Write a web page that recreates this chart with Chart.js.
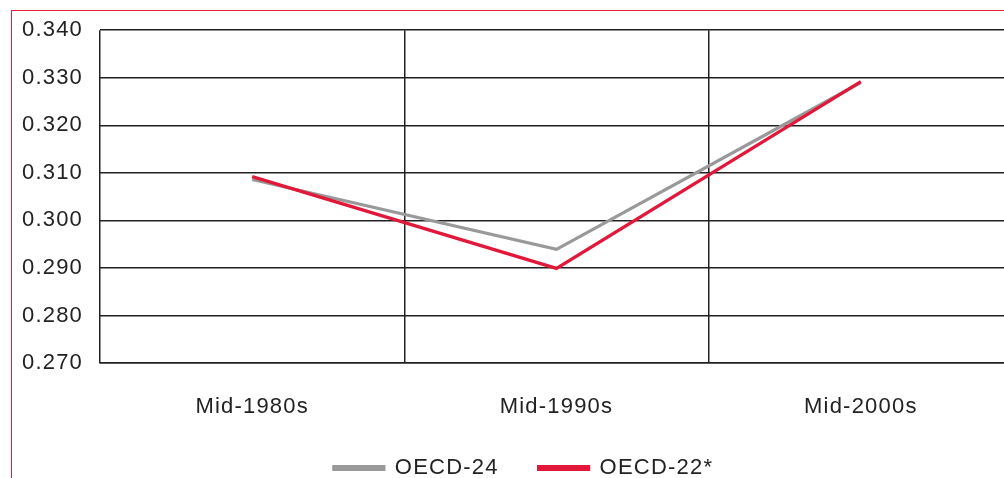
<!DOCTYPE html>
<html>
<head>
<meta charset="utf-8">
<script src="https://cdn.jsdelivr.net/npm/chart.js@4"></script>
<style>
  html, body { margin: 0; padding: 0; background: #fff; overflow: hidden; }
  #wrap { position: relative; width: 1004px; height: 478px; overflow: hidden; }
  #frame { position: absolute; left: 11px; top: 10px; width: 1100px; height: 600px;
           border-left: 1px solid #e8203f; border-top: 1px solid #e8203f; }
  #box { position: absolute; left: 0; top: 0; width: 1044px; height: 489px; }
</style>
</head>
<body>
<div id="wrap">
  <div id="frame"></div>
  <div id="box"><canvas id="giniChart"></canvas></div>
</div>
<script>
const periods = ['Mid-1980s', 'Mid-1990s', 'Mid-2000s'];
const oecd24 = [0.3086, 0.2939, 0.3290];
const oecd22 = [0.3092, 0.2899, 0.3292];
const yTicks = [0.27, 0.28, 0.29, 0.30, 0.31, 0.32, 0.33, 0.34];

const font = { family: '"Liberation Sans", Arial, sans-serif', size: 22 };

// wide tracking like the original print typeface, and nudge the legend
const tweaks = {
    id: 'tweaks',
    beforeLayout: (chart) => { chart.ctx.letterSpacing = '1.2px'; },
    afterLayout: (chart) => {
        chart.legend.left += 17;
        chart.legend.right += 17;
    },
    beforeDraw: (chart) => { chart.ctx.letterSpacing = '1.2px'; }
};

document.addEventListener('DOMContentLoaded', () => {
    const ctx = document.getElementById('giniChart').getContext('2d');
    new Chart(ctx, {
        type: 'line',
        data: {
            labels: periods,
            datasets: [{
                label: 'OECD-24',
                data: oecd24,
                borderColor: '#999999',
                backgroundColor: '#999999',
                borderWidth: 3.2,
                pointRadius: 0,
                order: 1
            }, {
                label: 'OECD-22*',
                data: oecd22,
                borderColor: '#e2183a',
                backgroundColor: '#e2183a',
                borderWidth: 3.2,
                pointRadius: 0,
                order: 0
            }]
        },
        plugins: [tweaks],
        options: {
            responsive: true,
            maintainAspectRatio: false,
            animation: false,
            layout: { padding: { top: 30, right: 31, left: 0, bottom: 0 } },
            plugins: {
                tooltip: { enabled: false },
                legend: {
                    position: 'bottom',
                    labels: {
                        font: font,
                        color: '#222',
                        boxWidth: 50,
                        boxHeight: 3,
                        padding: 40,
                        sort: (a, b) => a.datasetIndex - b.datasetIndex
                    }
                }
            },
            scales: {
                x: {
                    offset: true,
                    grid: { offset: true, color: '#222', lineWidth: 1.5, drawTicks: false },
                    border: { color: '#222', width: 1.5 },
                    ticks: { font: font, color: '#222', padding: 31 },
                    afterFit: (scale) => { scale.height = 54; }
                },
                y: {
                    min: 0.27,
                    max: 0.34,
                    afterBuildTicks: (scale) => { scale.ticks = yTicks.map(v => ({ value: v })); },
                    grid: { color: '#222', lineWidth: 1.5, drawTicks: false },
                    border: { display: false },
                    ticks: {
                        font: font,
                        color: '#222',
                        padding: 17,
                        callback: (v) => Number(v).toFixed(3)
                    },
                    afterFit: (scale) => { scale.width = 100; }
                }
            }
        }
    });
});
</script>
</body>
</html>
